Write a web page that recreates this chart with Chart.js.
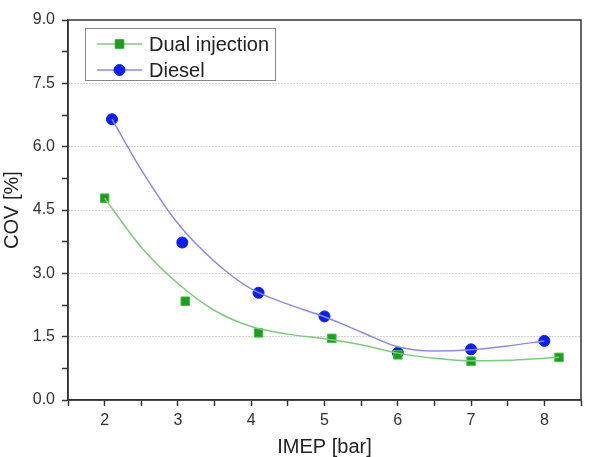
<!DOCTYPE html>
<html>
<head>
<meta charset="utf-8">
<title>COV vs IMEP</title>
<script src="https://cdn.jsdelivr.net/npm/chart.js@4.4.1/dist/chart.umd.min.js"></script>
<style>
    html, body { margin: 0; padding: 0; background: #fff; }
    #wrap { width: 590px; height: 457px; }
</style>
</head>
<body>
<div id="wrap"><canvas id="covChart" width="590" height="457"></canvas></div>
<script>
// measured points
const imepDual = [2.0, 3.1, 4.1, 5.1, 6.0, 7.0, 8.2];
const covDual = [4.78, 2.34, 1.59, 1.46, 1.07, 0.92, 1.01];
const imepDiesel = [2.1, 3.06, 4.1, 5.0, 6.0, 7.0, 8.0];
const covDiesel = [6.65, 3.73, 2.54, 1.98, 1.12, 1.20, 1.40];

// fitted curves
const fitDualX = [2.0, 2.5, 3.0, 3.5, 4.0, 4.5, 5.0, 5.5, 6.0, 6.5, 7.0, 7.5, 8.0, 8.2];
const fitDualY = [4.78, 3.62, 2.76, 2.12, 1.74, 1.56, 1.45, 1.31, 1.11, 0.99, 0.93, 0.94, 0.99, 1.01];
const fitDieselX = [2.1, 2.5, 3.0, 3.5, 4.0, 4.5, 5.0, 5.5, 6.0, 6.5, 7.0, 7.5, 8.0];
const fitDieselY = [6.65, 5.45, 4.18, 3.28, 2.63, 2.27, 1.97, 1.61, 1.26, 1.16, 1.19, 1.28, 1.40];

const seriesNames = ['Dual injection', 'Diesel'];

const greenMark = '#1c9e1c';
const greenLine = '#7ccc7c';
const blueMark = '#0b1ef5';
const blueLine = '#8a8aee';

function toPoints(xs, ys) {
    return xs.map((x, i) => ({ x: x, y: ys[i] }));
}

function isMultiple(v, step) {
    const r = v / step;
    return Math.abs(r - Math.round(r)) < 1e-6;
}

// frame around the plot and the legend box in the top-left corner
const framePlugin = {
    id: 'frame',
    afterDraw(chart) {
        const { ctx, chartArea } = chart;
        ctx.save();
        ctx.strokeStyle = '#333';
        ctx.lineWidth = 1.5;
        ctx.strokeRect(chartArea.left, chartArea.top,
            chartArea.right - chartArea.left, chartArea.bottom - chartArea.top);

        ctx.strokeStyle = '#888';
        ctx.lineWidth = 1;
        ctx.strokeRect(85.5, 28.5, 190, 52);

        const rows = [
            { label: seriesNames[0], line: greenLine, mark: greenMark, style: 'rect', r: 6, y: 44 },
            { label: seriesNames[1], line: blueLine, mark: blueMark, style: 'circle', r: 5.5, y: 70 }
        ];
        rows.forEach(row => {
            ctx.strokeStyle = row.line;
            ctx.lineWidth = 1.5;
            ctx.beginPath();
            ctx.moveTo(97, row.y);
            ctx.lineTo(142, row.y);
            ctx.stroke();
            ctx.fillStyle = row.mark;
            ctx.strokeStyle = row.mark;
            ctx.lineWidth = 1;
            Chart.helpers.drawPoint(ctx, { pointStyle: row.style, radius: row.r, borderWidth: 1 }, 119.5, row.y);
            ctx.fillStyle = '#222';
            ctx.font = '20px "Liberation Sans", Arial, sans-serif';
            ctx.textAlign = 'left';
            ctx.textBaseline = 'middle';
            ctx.fillText(row.label, 149, row.y + 1);
        });
        ctx.restore();
    }
};

const ctx = document.getElementById('covChart').getContext('2d');
new Chart(ctx, {
    type: 'scatter',
    data: {
        datasets: [
            {
                label: seriesNames[0] + ' fit',
                data: toPoints(fitDualX, fitDualY),
                showLine: true,
                borderColor: greenLine,
                borderWidth: 1.5,
                pointRadius: 0,
                cubicInterpolationMode: 'monotone'
            },
            {
                label: seriesNames[1] + ' fit',
                data: toPoints(fitDieselX, fitDieselY),
                showLine: true,
                borderColor: blueLine,
                borderWidth: 1.5,
                pointRadius: 0,
                cubicInterpolationMode: 'monotone'
            },
            {
                label: seriesNames[0],
                data: toPoints(imepDual, covDual),
                pointStyle: 'rect',
                pointRadius: 6,
                backgroundColor: greenMark,
                borderColor: '#3fbf3f',
                borderWidth: 1
            },
            {
                label: seriesNames[1],
                data: toPoints(imepDiesel, covDiesel),
                pointStyle: 'circle',
                pointRadius: 5.5,
                backgroundColor: blueMark,
                borderColor: blueMark,
                borderWidth: 1
            }
        ]
    },
    options: {
        responsive: false,
        animation: false,
        devicePixelRatio: 1,
        layout: {
            padding: { left: 0, right: 9, top: 20, bottom: 0 }
        },
        plugins: {
            legend: { display: false },
            tooltip: { enabled: false }
        },
        scales: {
            x: {
                type: 'linear',
                min: 1.5,
                max: 8.5,
                afterFit: s => { s.height = 57; },
                ticks: {
                    stepSize: 0.5,
                    autoSkip: false,
                    maxRotation: 0,
                    padding: 5,
                    color: '#333',
                    font: { family: '"Liberation Sans", Arial, sans-serif', size: 16 },
                    callback: v => isMultiple(v, 1) ? String(v) : ''
                },
                grid: {
                    drawOnChartArea: false,
                    tickLength: 6,
                    tickColor: '#333',
                    tickWidth: 1.5
                },
                border: { color: '#333', width: 1.5 },
                title: {
                    display: true,
                    text: 'IMEP [bar]',
                    color: '#222',
                    font: { family: '"Liberation Sans", Arial, sans-serif', size: 20, lineHeight: 1 },
                    padding: { top: 0, bottom: 0 }
                }
            },
            y: {
                type: 'linear',
                min: 0,
                max: 9,
                afterFit: s => { s.width = 68; },
                ticks: {
                    stepSize: 0.75,
                    autoSkip: false,
                    padding: 7,
                    color: '#333',
                    font: { family: '"Liberation Sans", Arial, sans-serif', size: 16 },
                    callback: v => isMultiple(v, 1.5) ? v.toFixed(1) : ''
                },
                grid: {
                    color: c => (c.tick && isMultiple(c.tick.value, 1.5) && c.tick.value > 0 && c.tick.value < 9) ? '#a8a8a8' : 'rgba(0,0,0,0)',
                    lineWidth: 1,
                    tickLength: 6,
                    tickColor: '#333',
                    tickWidth: 1.5
                },
                border: { color: '#333', width: 1.5, dash: [1, 2] },
                title: {
                    display: true,
                    text: 'COV [%]',
                    color: '#222',
                    font: { family: '"Liberation Sans", Arial, sans-serif', size: 20, lineHeight: 1 },
                    padding: { top: 2, bottom: 0 }
                }
            }
        }
    },
    plugins: [framePlugin]
});
</script>
</body>
</html>
